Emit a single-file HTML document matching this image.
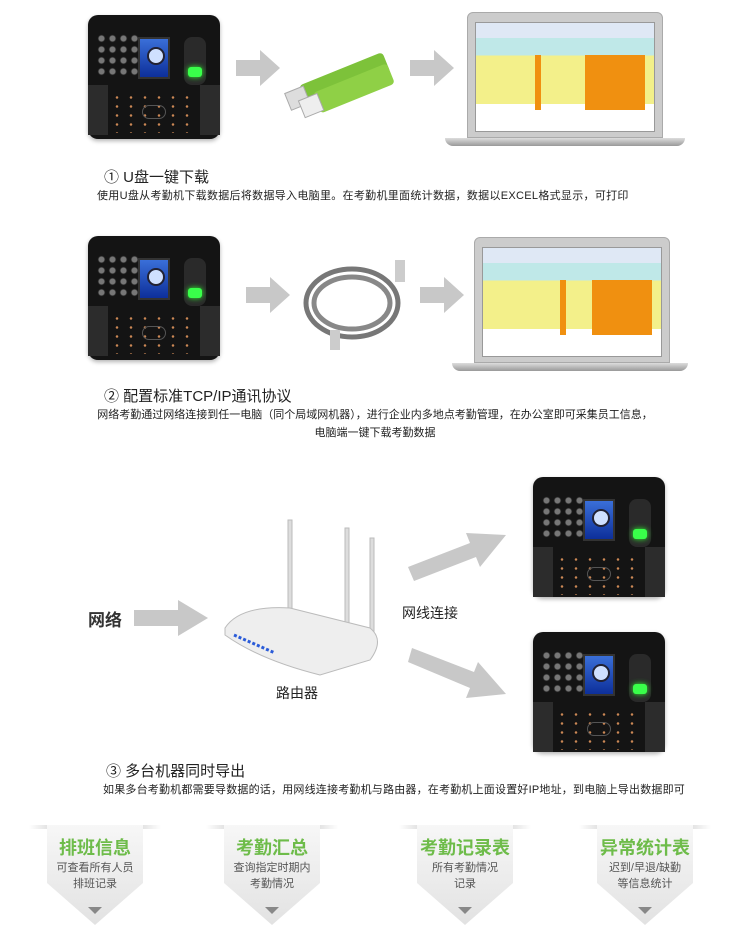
<!DOCTYPE html>
<html><head><meta charset="utf-8"><style>
*{margin:0;padding:0;box-sizing:border-box}
body{width:750px;height:949px;background:#fff;position:relative;overflow:hidden;font-family:"Liberation Sans","Noto Sans CJK SC",sans-serif;color:#222}
.a{position:absolute}
.dev{position:absolute;width:132px;height:124px;background:#141414;border-radius:10px;box-shadow:0 2px 4px rgba(0,0,0,.3)}
.dev .kp{position:absolute;left:8px;top:18px;width:44px;height:44px;background:radial-gradient(circle,#777 2.5px,#222 3.5px,transparent 4px) 0 0/11px 11px}
.dev .scr{position:absolute;left:50px;top:22px;width:32px;height:42px;background:linear-gradient(#3a6fd8,#0d2f9a);border:2px solid #333}
.dev .scr:after{content:"";position:absolute;left:7px;top:8px;width:14px;height:14px;border-radius:50%;background:#cfe0ff;border:2px solid #223}
.dev .fp{position:absolute;left:96px;top:22px;width:22px;height:48px;background:#2a2a2a;border-radius:8px}
.dev .fp:after{content:"";position:absolute;left:4px;top:30px;width:14px;height:10px;background:#39ff4a;border-radius:3px;box-shadow:0 0 6px #3f3}
.dev .low{position:absolute;left:22px;top:78px;width:88px;height:40px;background:radial-gradient(circle,#c85 1px,transparent 1.5px) 0 0/14px 9px}
.dev .side{position:absolute;top:70px;width:20px;height:50px;background:#2c2c2c}
.dev .oval{position:absolute;left:54px;top:90px;width:24px;height:14px;border:1px solid #555;border-radius:8px}
.lap{position:absolute}
.lap .lid{position:absolute;background:#ccc;border:1px solid #aaa;border-radius:6px 6px 0 0}
.lap .sc{position:absolute;background:#fff;border:1px solid #999}
.lap .base{position:absolute;height:8px;background:linear-gradient(#ddd,#999);border-radius:0 0 8px 8px}
.badge{position:absolute;top:825px;width:96px;height:105px}
.badge .b{position:absolute;left:0;top:0;width:96px;height:100px;background:linear-gradient(#f7f7f7,#e2e2e2);clip-path:polygon(0 0,100% 0,100% 58%,50% 100%,0 58%);}
.badge .t{position:absolute;left:-10px;width:116px;text-align:center}
.badge .h{top:9px;font-size:18px;color:#6ebc4a;font-weight:bold}
.badge .s{font-size:11px;color:#555;line-height:16px;top:35px}
.badge .tri{position:absolute;left:41px;top:82px;border-left:7px solid transparent;border-right:7px solid transparent;border-top:7px solid #888}
.badge .bar{position:absolute;left:-18px;top:0;width:132px;height:4px;background:linear-gradient(90deg,transparent,#ccc,#999,#ccc,transparent)}
</style></head><body>

<div class="dev" style="left:88px;top:15px"><div class="kp"></div><div class="scr"></div><div class="fp"></div><div class="side" style="left:0"></div><div class="side" style="right:0"></div><div class="low"></div><div class="oval"></div></div>
<svg class="a" style="left:236px;top:50px" width="46" height="36"><polygon points="0,10 24,10 24,0 44,18 24,36 24,26 0,26" fill="#c8c8c8"/></svg>
<svg class="a" style="left:280px;top:40px" width="130" height="80"><g transform="rotate(-22 65 40)"><rect x="20" y="28" width="90" height="22" rx="4" fill="#7dc23a"/><rect x="4" y="30" width="20" height="18" fill="#ddd" stroke="#aaa"/><rect x="30" y="40" width="80" height="22" rx="4" fill="#8fd046"/><rect x="14" y="42" width="20" height="18" fill="#eee" stroke="#aaa"/></g></svg>
<svg class="a" style="left:410px;top:50px" width="46" height="36"><polygon points="0,10 24,10 24,0 44,18 24,36 24,26 0,26" fill="#c8c8c8"/></svg>
<div class="lap" style="left:445px;top:12px">
<div class="lid" style="left:22px;top:0;width:196px;height:126px"></div>
<div class="sc" style="left:30px;top:10px;width:180px;height:110px;background:linear-gradient(#dfe8f5 0 14%,#bfe8e8 14% 30%,#f3f08a 30% 75%,#fff 75%)"></div>
<div class="a" style="left:140px;top:43px;width:60px;height:55px;background:#f09010"></div>
<div class="a" style="left:90px;top:43px;width:6px;height:55px;background:#f09010"></div>
<div class="base" style="left:0;top:126px;width:240px"></div>
</div>
<div class="a" style="left:104px;top:166px;font-size:15px">① U盘一键下载</div>
<div class="a" style="left:97px;top:187px;font-size:11px;letter-spacing:0.3px">使用U盘从考勤机下载数据后将数据导入电脑里。在考勤机里面统计数据，数据以EXCEL格式显示，可打印</div>

<div class="dev" style="left:88px;top:236px"><div class="kp"></div><div class="scr"></div><div class="fp"></div><div class="side" style="left:0"></div><div class="side" style="right:0"></div><div class="low"></div><div class="oval"></div></div>
<svg class="a" style="left:246px;top:277px" width="46" height="36"><polygon points="0,10 24,10 24,0 44,18 24,36 24,26 0,26" fill="#c8c8c8"/></svg>
<svg class="a" style="left:300px;top:245px" width="110" height="110"><ellipse cx="52" cy="58" rx="46" ry="34" fill="none" stroke="#777" stroke-width="5"/><ellipse cx="52" cy="58" rx="38" ry="26" fill="none" stroke="#888" stroke-width="5"/><rect x="95" y="15" width="10" height="22" fill="#ccc"/><rect x="30" y="85" width="10" height="20" fill="#ccc"/></svg>
<svg class="a" style="left:420px;top:277px" width="46" height="36"><polygon points="0,10 24,10 24,0 44,18 24,36 24,26 0,26" fill="#c8c8c8"/></svg>
<div class="lap" style="left:452px;top:237px">
<div class="lid" style="left:22px;top:0;width:196px;height:126px"></div>
<div class="sc" style="left:30px;top:10px;width:180px;height:110px;background:linear-gradient(#dfe8f5 0 14%,#bfe8e8 14% 30%,#f3f08a 30% 75%,#fff 75%)"></div>
<div class="a" style="left:140px;top:43px;width:60px;height:55px;background:#f09010"></div>
<div class="a" style="left:108px;top:43px;width:6px;height:55px;background:#f09010"></div>
<div class="base" style="left:0;top:126px;width:236px"></div>
</div>
<div class="a" style="left:104px;top:385px;font-size:15px">② 配置标准TCP/IP通讯协议</div>
<div class="a" style="left:0;width:750px;text-align:center;top:406px;font-size:11px;line-height:18px">网络考勤通过网络连接到任一电脑（同个局域网机器），进行企业内多地点考勤管理，在办公室即可采集员工信息，<br>电脑端一键下载考勤数据</div>

<div class="a" style="left:88px;top:606px;font-size:17px;font-weight:bold;color:#333">网络</div>
<svg class="a" style="left:134px;top:600px" width="76" height="36"><polygon points="0,10 44,10 44,0 74,18 44,36 44,26 0,26" fill="#c8c8c8"/></svg>
<svg class="a" style="left:220px;top:510px" width="190" height="175">
<rect x="68" y="10" width="4" height="90" fill="#ddd" stroke="#bbb"/><rect x="125" y="18" width="4" height="100" fill="#ddd" stroke="#bbb"/><rect x="150" y="28" width="4" height="110" fill="#ddd" stroke="#bbb"/>
<path d="M5,118 Q20,95 70,98 L150,118 Q165,130 150,150 L100,165 Q40,150 5,125 Z" fill="#eee" stroke="#bbb"/>
<path d="M14,125 L55,143" stroke="#2a5bd8" stroke-width="3" stroke-dasharray="3 2"/></svg>
<div class="a" style="left:276px;top:683px;font-size:14px">路由器</div>
<svg class="a" style="left:408px;top:525px" width="100" height="60"><polygon points="0,42 62,18 58,8 98,10 72,42 68,32 6,56" fill="#c8c8c8"/></svg>
<div class="a" style="left:402px;top:603px;font-size:14px">网线连接</div>
<svg class="a" style="left:408px;top:648px" width="100" height="60"><polygon points="4,0 66,24 70,14 98,46 58,50 62,40 0,14" fill="#c8c8c8"/></svg>
<div class="dev" style="left:533px;top:477px;width:132px;height:120px"><div class="kp"></div><div class="scr"></div><div class="fp"></div><div class="side" style="left:0"></div><div class="side" style="right:0"></div><div class="low"></div><div class="oval"></div></div>
<div class="dev" style="left:533px;top:632px;width:132px;height:120px"><div class="kp"></div><div class="scr"></div><div class="fp"></div><div class="side" style="left:0"></div><div class="side" style="right:0"></div><div class="low"></div><div class="oval"></div></div>
<div class="a" style="left:106px;top:760px;font-size:15px">③ 多台机器同时导出</div>
<div class="a" style="left:103px;top:781px;font-size:11px;letter-spacing:0.2px">如果多台考勤机都需要导数据的话，用网线连接考勤机与路由器，在考勤机上面设置好IP地址，到电脑上导出数据即可</div>

<div class="badge" style="left:47px"><div class="bar"></div><div class="b"></div><div class="t h">排班信息</div><div class="t s">可查看所有人员<br>排班记录</div><div class="tri"></div></div>
<div class="badge" style="left:224px"><div class="bar"></div><div class="b"></div><div class="t h">考勤汇总</div><div class="t s">查询指定时期内<br>考勤情况</div><div class="tri"></div></div>
<div class="badge" style="left:417px"><div class="bar"></div><div class="b"></div><div class="t h">考勤记录表</div><div class="t s">所有考勤情况<br>记录</div><div class="tri"></div></div>
<div class="badge" style="left:597px"><div class="bar"></div><div class="b"></div><div class="t h">异常统计表</div><div class="t s">迟到/早退/缺勤<br>等信息统计</div><div class="tri"></div></div>
</body></html>
